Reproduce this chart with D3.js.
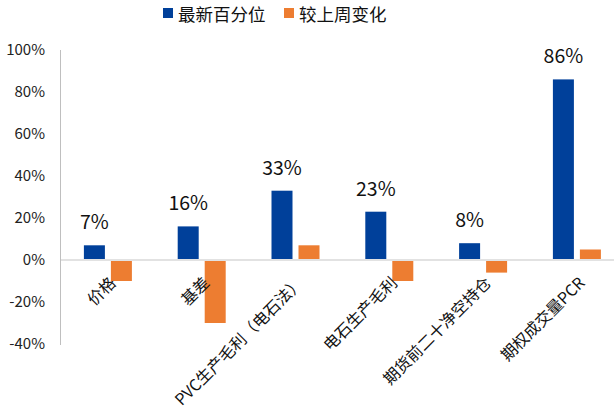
<!DOCTYPE html>
<html><head><meta charset="utf-8">
<script src="https://cdn.jsdelivr.net/npm/d3@7/dist/d3.min.js"></script>
<style>body{margin:0;background:#fff}svg{display:block}text{font-family:"Noto Sans CJK SC","Noto Sans",sans-serif}</style>
</head><body><svg id="c" width="614" height="409"></svg>
<script>
const categories = ["价格","基差","PVC生产毛利（电石法）","电石生产毛利","期货前二十净空持仓","期权成交量PCR"];
const latest = [7,16,33,23,8,86];
const weekChange = [-10,-30,7,-10,-6,5];
const seriesNames = ["最新百分位","较上周变化"];
const colors = ["#00409A","#ED7D31"];
const yTicks = [-40,-20,0,20,40,60,80,100];

const svg = d3.select("#c");
const x0 = 61, bandW = 93.8;
const x = d3.scaleBand().domain(categories).range([x0, x0 + bandW*categories.length]).paddingInner(0).paddingOuter(0);
const y = d3.scaleLinear().domain([-40,100]).range([344,50]);

// y axis labels
svg.append("g").selectAll("text").data(yTicks).join("text")
  .attr("x",45).attr("y",d=>y(d)).attr("dy","0.35em").attr("text-anchor","end")
  .attr("font-size",15).attr("fill","#222").text(d=>d+"%");
// axis line
svg.append("line").attr("x1",60.5).attr("x2",60.5).attr("y1",y(100)).attr("y2",y(-40)+1).attr("stroke","#bfbfbf").attr("stroke-width",1);
// zero line
svg.append("line").attr("x1",61).attr("x2",614).attr("y1",y(0)).attr("y2",y(0)).attr("stroke","#d9d9d9").attr("stroke-width",1.5);

const barW = 21, gap = 6;
const groups = svg.append("g").selectAll("g").data(categories).join("g");
// blue
groups.append("rect")
  .attr("x",(d)=>x(d)+bandW/2-gap/2-barW)
  .attr("width",barW)
  .attr("y",(d,i)=>y(latest[i]))
  .attr("height",(d,i)=>y(0)-1-y(latest[i]))
  .attr("fill",colors[0]);
// orange
groups.append("rect")
  .attr("x",(d)=>x(d)+bandW/2+gap/2)
  .attr("width",barW)
  .attr("y",(d,i)=>weekChange[i]>=0?y(weekChange[i]):y(0)+1)
  .attr("height",(d,i)=>weekChange[i]>=0?y(0)-1-y(weekChange[i]):y(weekChange[i])-y(0)-1)
  .attr("fill",colors[1]);
// data labels
groups.append("text")
  .attr("x",(d)=>x(d)+bandW/2-gap/2-barW/2)
  .attr("y",(d,i)=>y(latest[i])-16)
  .attr("text-anchor","middle").attr("font-size",19.5).attr("fill","#111")
  .text((d,i)=>latest[i]+"%");
// category labels
groups.append("text")
  .attr("transform",d=>`translate(${x(d)+bandW/2+4},${279}) rotate(-45)`)
  .attr("text-anchor","end").attr("dominant-baseline","central")
  .attr("font-size",16).attr("fill","#111")
  .text(d=>d);

// legend
const lg = svg.append("g");
const lx = [163,284];
seriesNames.forEach((s,i)=>{
  lg.append("rect").attr("x",lx[i]).attr("y",8).attr("width",10).attr("height",10).attr("fill",colors[i]);
  lg.append("text").attr("x",lx[i]+15).attr("y",21).attr("font-size",17.5).attr("fill","#111").text(s);
});
</script></body></html>
